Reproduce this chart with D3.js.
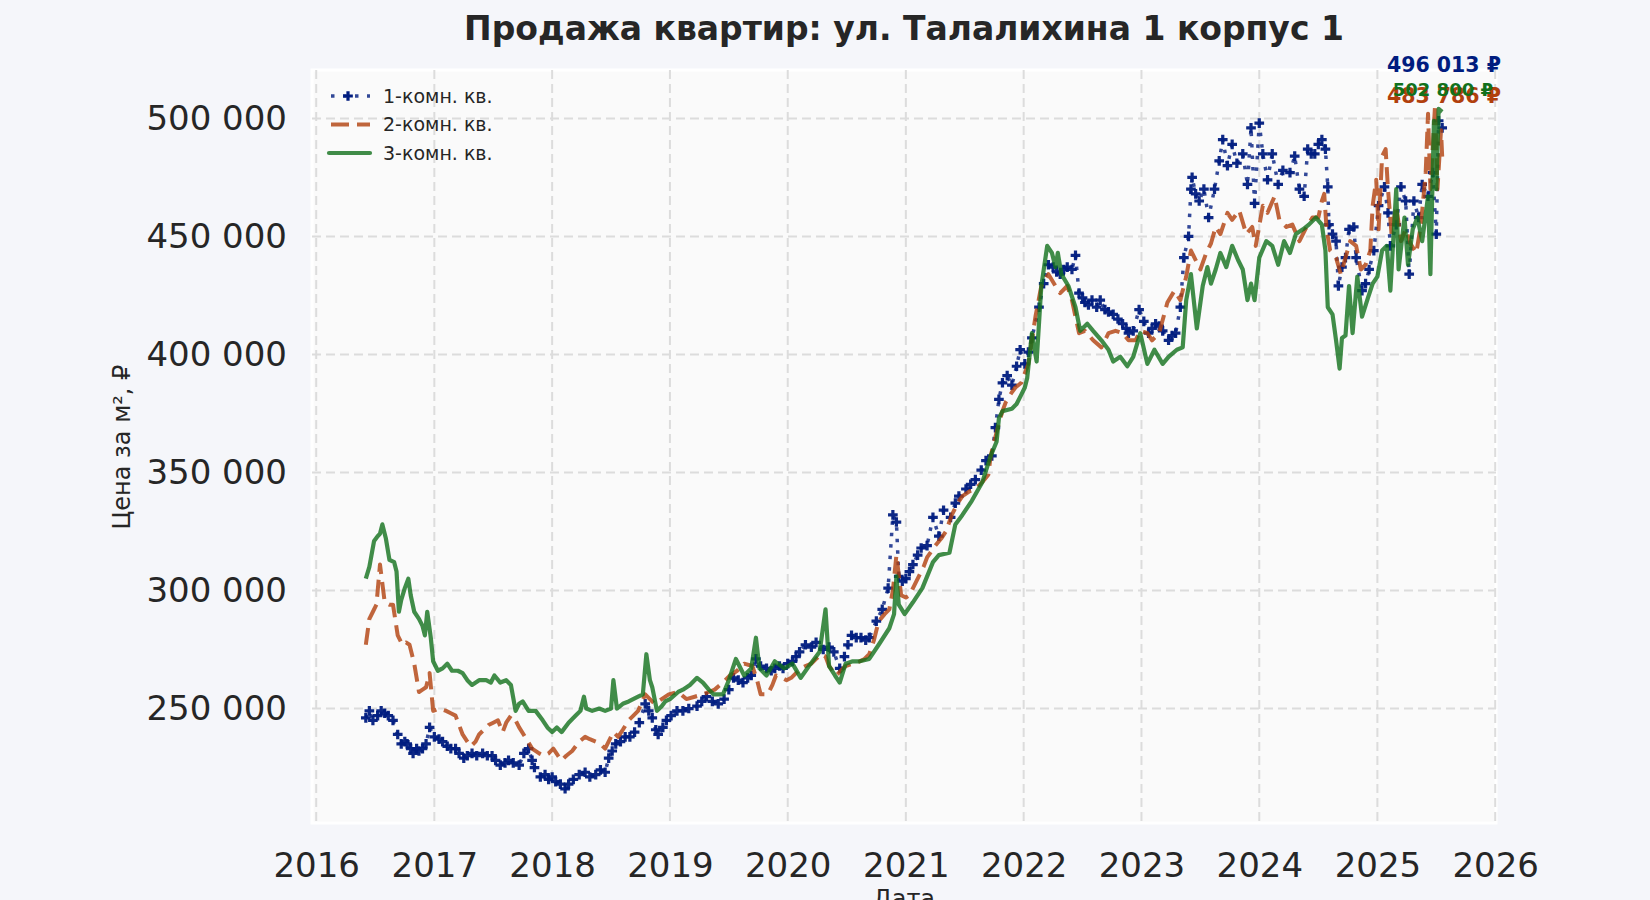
<!DOCTYPE html>
<html>
<head>
<meta charset="utf-8">
<script src="https://cdn.jsdelivr.net/npm/d3@7"></script>
<style>
  body { margin: 0; background: #f5f6fa; }
  svg { display: block; font-family: "DejaVu Sans", sans-serif; }
</style>
</head>
<body>
<div id="chart"></div>
<script>
// Series: [decimal year, price per m2 in thousand rubles]
var room1 = [
  [2016.42,246],[2016.45,249],[2016.48,245],[2016.52,247],[2016.55,249],[2016.58,248],[2016.61,247],[2016.65,245],
  [2016.69,239],[2016.72,235],[2016.75,236],[2016.77,235],[2016.80,233],[2016.82,231],[2016.85,233],[2016.87,232],
  [2016.90,233],[2016.93,235],[2016.96,242],[2017.00,238],[2017.04,237],[2017.07,236],[2017.11,234],[2017.14,233],
  [2017.18,233],[2017.21,231],[2017.25,229],[2017.28,230],[2017.32,231],[2017.36,230],[2017.41,231],[2017.45,230],
  [2017.49,230],[2017.52,228],[2017.56,226],[2017.60,227],[2017.63,228],[2017.67,227],[2017.72,226],[2017.76,231],
  [2017.80,233],[2017.83,228],[2017.85,225],[2017.90,221],[2017.94,222],[2017.97,220],[2018.00,221],[2018.03,219],
  [2018.07,218],[2018.11,216],[2018.14,218],[2018.18,220],[2018.23,222],[2018.28,223],[2018.32,221],[2018.37,222],
  [2018.41,224],[2018.45,223],[2018.48,229],[2018.51,232],[2018.54,235],[2018.58,236],[2018.62,238],[2018.66,238],
  [2018.70,240],[2018.74,244],[2018.79,252],[2018.82,249],[2018.85,246],[2018.88,241],[2018.90,239],[2018.94,242],
  [2018.97,245],[2019.01,247],[2019.06,249],[2019.11,249],[2019.16,250],[2019.23,251],[2019.27,253],[2019.31,255],
  [2019.36,253],[2019.41,252],[2019.46,254],[2019.50,258],[2019.54,263],[2019.58,262],[2019.62,261],[2019.66,263],
  [2019.69,264],[2019.73,271],[2019.77,268],[2019.82,267],[2019.86,266],[2019.89,267],[2019.93,268],[2019.96,267],
  [2020.00,269],[2020.04,270],[2020.07,272],[2020.10,274],[2020.15,277],[2020.20,276],[2020.24,278],[2020.30,275],
  [2020.35,276],[2020.39,274],[2020.44,267],[2020.48,272],[2020.51,277],[2020.54,281],[2020.58,280],[2020.62,280],
  [2020.66,279],[2020.69,280],[2020.75,287],[2020.80,292],[2020.85,301],[2020.89,332],[2020.92,329],[2020.94,306],
  [2020.97,304],[2021.00,305],[2021.03,308],[2021.06,311],[2021.10,315],[2021.13,318],[2021.18,319],[2021.23,331],
  [2021.28,323],[2021.32,334],[2021.38,331],[2021.42,337],[2021.45,340],[2021.51,343],[2021.55,345],[2021.59,347],
  [2021.64,351],[2021.68,355],[2021.73,357],[2021.76,369],[2021.79,381],[2021.82,388],[2021.86,391],[2021.90,387],
  [2021.94,395],[2021.97,402],[2022.01,396],[2022.04,401],[2022.07,407],[2022.13,420],[2022.17,430],[2022.21,438],
  [2022.25,437],[2022.28,435],[2022.31,434],[2022.34,436],[2022.37,437],[2022.41,436],[2022.44,442],[2022.47,426],
  [2022.50,424],[2022.52,422],[2022.55,421],[2022.58,423],[2022.62,420],[2022.65,423],[2022.69,419],[2022.72,418],
  [2022.76,417],[2022.80,415],[2022.84,413],[2022.87,411],[2022.89,409],[2022.93,410],[2022.98,419],[2023.02,414],
  [2023.06,409],[2023.09,411],[2023.12,413],[2023.15,412],[2023.18,410],[2023.23,406],[2023.26,408],[2023.29,409],
  [2023.33,420],[2023.36,441],[2023.40,450],[2023.42,470],[2023.43,475],[2023.46,468],[2023.49,465],[2023.53,470],
  [2023.57,458],[2023.62,470],[2023.66,482],[2023.69,491],[2023.73,480],[2023.77,489],[2023.81,481],[2023.86,485],
  [2023.90,472],[2023.93,496],[2023.96,464],[2024.00,498],[2024.03,485],[2024.07,474],[2024.11,485],[2024.16,472],
  [2024.20,478],[2024.26,477],[2024.30,484],[2024.34,470],[2024.38,467],[2024.41,487],[2024.44,485],[2024.47,485],
  [2024.50,489],[2024.53,491],[2024.56,487],[2024.58,471],[2024.59,455],[2024.62,451],[2024.65,448],[2024.67,429],
  [2024.70,437],[2024.73,441],[2024.76,453],[2024.80,454],[2024.82,441],[2024.87,427],[2024.90,430],[2024.93,436],
  [2024.97,444],[2025.01,463],[2025.06,471],[2025.09,460],[2025.11,446],[2025.16,455],[2025.20,471],[2025.24,465],
  [2025.27,434],[2025.31,465],[2025.35,458],[2025.38,472],[2025.43,467],[2025.47,477],[2025.50,451],[2025.52,499],
  [2025.55,496.013]
];

var room2 = [
  [2016.42,277],[2016.45,288],[2016.48,291],[2016.51,294],[2016.54,311],[2016.58,295],[2016.62,294],[2016.65,294],
  [2016.69,281],[2016.73,277],[2016.76,278],[2016.79,277],[2016.83,269],[2016.87,257],[2016.90,258],[2016.93,259],
  [2016.96,265],[2016.99,249],[2017.04,250],[2017.10,249],[2017.14,248],[2017.18,247],[2017.24,239],[2017.28,236],
  [2017.31,234],[2017.35,236],[2017.38,239],[2017.42,241],[2017.46,243],[2017.50,244],[2017.54,245],[2017.58,240],
  [2017.61,244],[2017.65,247],[2017.69,245],[2017.72,242],[2017.77,238],[2017.83,233],[2017.89,231],[2017.93,230],
  [2017.97,231],[2018.01,233],[2018.05,230],[2018.08,228],[2018.12,230],[2018.17,232],[2018.23,236],[2018.28,238],
  [2018.32,237],[2018.37,236],[2018.41,235],[2018.45,233],[2018.52,240],[2018.56,238],[2018.60,241],[2018.65,245],
  [2018.69,247],[2018.73,249],[2018.79,256],[2018.83,254],[2018.87,252],[2018.93,254],[2018.99,256],[2019.07,257],
  [2019.14,254],[2019.21,255],[2019.28,256],[2019.33,257],[2019.38,258],[2019.45,261],[2019.51,264],[2019.57,266],
  [2019.63,269],[2019.70,268],[2019.74,262],[2019.77,256],[2019.83,256],[2019.87,260],[2019.90,264],[2019.95,263],
  [2019.99,262],[2020.03,263],[2020.07,265],[2020.11,267],[2020.15,268],[2020.20,269],[2020.24,271],[2020.28,273],
  [2020.32,272],[2020.35,268],[2020.41,264],[2020.45,266],[2020.49,268],[2020.55,269],[2020.61,270],[2020.65,271],
  [2020.69,273],[2020.73,279],[2020.77,287],[2020.82,290],[2020.86,292],[2020.89,300],[2020.92,315],[2020.96,298],
  [2021.00,297],[2021.03,298],[2021.07,302],[2021.11,306],[2021.15,310],[2021.18,314],[2021.25,319],[2021.30,322],
  [2021.34,325],[2021.39,332],[2021.44,337],[2021.48,340],[2021.54,342],[2021.59,343],[2021.65,346],[2021.70,349],
  [2021.72,357],[2021.76,365],[2021.79,371],[2021.82,376],[2021.85,380],[2021.90,384],[2021.93,386],[2021.98,388],
  [2022.04,396],[2022.10,416],[2022.15,429],[2022.21,434],[2022.27,429],[2022.31,426],[2022.37,429],[2022.41,423],
  [2022.44,416],[2022.47,409],[2022.52,410],[2022.59,406],[2022.66,403],[2022.72,409],[2022.78,410],[2022.84,409],
  [2022.89,406],[2022.95,406],[2022.99,410],[2023.05,409],[2023.09,406],[2023.15,409],[2023.22,422],[2023.28,427],
  [2023.33,423],[2023.38,433],[2023.42,444],[2023.46,440],[2023.50,436],[2023.55,443],[2023.59,447],[2023.63,454],
  [2023.67,451],[2023.73,460],[2023.77,457],[2023.83,461],[2023.89,451],[2023.94,454],[2023.97,446],[2024.03,463],
  [2024.07,460],[2024.13,467],[2024.17,457],[2024.23,454],[2024.28,455],[2024.34,448],[2024.39,453],[2024.45,458],
  [2024.50,458],[2024.53,465],[2024.55,468],[2024.57,453],[2024.60,444],[2024.65,441],[2024.69,434],[2024.73,441],
  [2024.77,448],[2024.82,446],[2024.86,436],[2024.90,438],[2024.94,444],[2024.96,463],[2024.99,474],[2025.01,453],
  [2025.04,484],[2025.07,487],[2025.09,470],[2025.12,451],[2025.16,463],[2025.20,448],[2025.24,453],[2025.28,447],
  [2025.33,443],[2025.37,455],[2025.41,477],[2025.43,502],[2025.45,470],[2025.49,506],[2025.51,470],[2025.54,495],
  [2025.55,483.786]
];

var room3 = [
  [2016.42,305],[2016.45,310],[2016.49,321],[2016.52,323],[2016.54,324],[2016.56,328],[2016.59,322],[2016.62,313],
  [2016.66,312],[2016.68,308],[2016.70,291],[2016.72,296],[2016.75,301],[2016.78,305],[2016.80,298],[2016.83,291],
  [2016.87,288],[2016.90,285],[2016.92,281],[2016.94,291],[2016.97,280],[2016.99,270],[2017.03,266],[2017.07,267],
  [2017.11,269],[2017.15,266],[2017.20,266],[2017.24,265],[2017.28,262],[2017.32,260],[2017.38,262],[2017.44,262],
  [2017.48,261],[2017.51,264],[2017.56,261],[2017.61,262],[2017.65,260],[2017.69,249],[2017.72,252],[2017.75,253],
  [2017.80,249],[2017.86,249],[2017.92,245],[2017.96,242],[2018.00,240],[2018.04,242],[2018.08,240],[2018.14,244],
  [2018.20,247],[2018.24,249],[2018.27,255],[2018.29,250],[2018.34,249],[2018.40,250],[2018.45,249],[2018.50,250],
  [2018.52,262],[2018.55,250],[2018.60,252],[2018.65,253],[2018.73,255],[2018.77,256],[2018.80,273],[2018.83,262],
  [2018.85,259],[2018.89,249],[2018.93,251],[2018.96,253],[2019.00,254],[2019.07,257],[2019.11,258],[2019.17,260],
  [2019.23,263],[2019.28,261],[2019.33,258],[2019.37,256],[2019.45,256],[2019.50,262],[2019.56,271],[2019.63,264],
  [2019.69,267],[2019.73,280],[2019.76,267],[2019.82,264],[2019.89,270],[2019.97,267],[2020.04,269],[2020.11,263],
  [2020.18,268],[2020.27,274],[2020.32,292],[2020.35,268],[2020.40,264],[2020.44,261],[2020.49,269],[2020.55,270],
  [2020.61,270],[2020.69,271],[2020.77,277],[2020.86,284],[2020.90,290],[2020.92,306],[2020.94,294],[2020.99,290],
  [2021.06,295],[2021.14,301],[2021.23,312],[2021.28,315],[2021.37,316],[2021.42,328],[2021.48,332],[2021.56,338],
  [2021.65,346],[2021.72,357],[2021.77,363],[2021.79,373],[2021.82,376],[2021.90,377],[2021.94,379],[2021.98,383],
  [2022.01,386],[2022.03,390],[2022.07,409],[2022.11,397],[2022.15,429],[2022.20,446],[2022.24,443],[2022.27,437],
  [2022.29,443],[2022.32,434],[2022.38,429],[2022.44,420],[2022.48,410],[2022.54,413],[2022.59,410],[2022.66,406],
  [2022.72,402],[2022.76,397],[2022.82,399],[2022.88,395],[2022.93,399],[2022.99,409],[2023.05,396],[2023.11,402],
  [2023.18,396],[2023.23,399],[2023.30,402],[2023.35,403],[2023.38,423],[2023.42,434],[2023.47,411],[2023.52,429],
  [2023.56,437],[2023.59,430],[2023.63,436],[2023.67,443],[2023.72,437],[2023.77,446],[2023.82,440],[2023.86,436],
  [2023.90,423],[2023.93,430],[2023.96,423],[2024.00,441],[2024.06,448],[2024.11,446],[2024.16,438],[2024.21,448],
  [2024.26,443],[2024.31,451],[2024.37,453],[2024.42,455],[2024.48,458],[2024.53,455],[2024.56,444],[2024.58,420],
  [2024.62,417],[2024.65,406],[2024.68,394],[2024.70,407],[2024.73,408],[2024.76,429],[2024.79,409],[2024.83,433],
  [2024.87,416],[2024.92,424],[2024.96,430],[2025.00,433],[2025.04,444],[2025.08,446],[2025.11,427],[2025.16,470],
  [2025.18,436],[2025.23,458],[2025.26,438],[2025.30,453],[2025.34,458],[2025.38,448],[2025.43,467],[2025.45,434],
  [2025.48,499],[2025.50,470],[2025.52,504],[2025.55,502.8]
];

var seriesNames = ['1-комн. кв.', '2-комн. кв.', '3-комн. кв.'];
var lastLabels = ['496 013 ₽', '483 786 ₽', '502 800 ₽'];
var yTickValues = [250000, 300000, 350000, 400000, 450000, 500000];
var xTickYears = [2016, 2017, 2018, 2019, 2020, 2021, 2022, 2023, 2024, 2025, 2026];

var colors = ['#001c7f', '#b1400d', '#12711c'];

// decimal year -> Date
function toDate(t) {
    var y = Math.floor(t);
    var a = new Date(y, 0, 1).getTime();
    var b = new Date(y + 1, 0, 1).getTime();
    return new Date(a + (t - y) * (b - a));
}

var allSeries = [room1, room2, room3].map(function (s) {
    return s.map(function (d) { return { date: toDate(d[0]), value: d[1] * 1000 }; });
});

var svgWidth = 1650, svgHeight = 900;
var margin = { top: 70, right: 154, bottom: 77, left: 312 };
var chartWidth = svgWidth - margin.left - margin.right;
var chartHeight = svgHeight - margin.top - margin.bottom;

var svg = d3.select('#chart')
    .append('svg')
    .attr('width', svgWidth)
    .attr('height', svgHeight)
    .style('background', '#f5f6fa');

var chartGroup = svg.append('g')
    .attr('transform', `translate(${margin.left}, ${margin.top})`);

// domains padded by 5% like matplotlib
var flat = [].concat.apply([], allSeries);
var tExt = d3.extent(flat, d => d.date.getTime());
var vExt = d3.extent(flat, d => d.value);
var tPad = (tExt[1] - tExt[0]) * 0.05;
var vPad = (vExt[1] - vExt[0]) * 0.05;

var xScale = d3.scaleTime()
    .domain([new Date(tExt[0] - tPad), new Date(tExt[1] + tPad)])
    .range([0, chartWidth]);

var yScale = d3.scaleLinear()
    .domain([vExt[0] - vPad, vExt[1] + vPad])
    .range([chartHeight, 0]);

// plot background
chartGroup.append('rect')
    .attr('x', 0).attr('y', 0)
    .attr('width', chartWidth).attr('height', chartHeight)
    .attr('fill', '#fafafa')
    .attr('stroke', '#ffffff')
    .attr('stroke-width', 3);

var locale = d3.formatLocale({ decimal: ',', thousands: ' ', grouping: [3], currency: ['', ' ₽'] });
var fmt = locale.format(',d');

var xTicks = xTickYears.map(y => new Date(y, 0, 1));

// grid
chartGroup.append('g')
    .selectAll('line')
    .data(xTicks)
    .enter()
    .append('line')
    .attr('x1', d => xScale(d)).attr('x2', d => xScale(d))
    .attr('y1', 0).attr('y2', chartHeight)
    .attr('stroke', '#dcdcdc')
    .attr('stroke-width', 2)
    .attr('stroke-dasharray', '9 5');

chartGroup.append('g')
    .selectAll('line')
    .data(yTickValues)
    .enter()
    .append('line')
    .attr('x1', 0).attr('x2', chartWidth)
    .attr('y1', d => yScale(d)).attr('y2', d => yScale(d))
    .attr('stroke', '#dcdcdc')
    .attr('stroke-width', 2)
    .attr('stroke-dasharray', '9 5');

// axes
var xAxis = d3.axisBottom(xScale)
    .tickValues(xTicks)
    .tickFormat(d3.timeFormat('%Y'))
    .tickSize(0)
    .tickPadding(30);

var yAxis = d3.axisLeft(yScale)
    .tickValues(yTickValues)
    .tickFormat(fmt)
    .tickSize(0)
    .tickPadding(25);

var gx = chartGroup.append('g')
    .attr('transform', `translate(0, ${chartHeight})`)
    .call(xAxis);

var gy = chartGroup.append('g')
    .call(yAxis);

[gx, gy].forEach(function (g) {
    g.select('.domain').remove();
    g.selectAll('text')
        .attr('fill', '#262626')
        .style('font-size', '34px')
        .style('font-family', '"DejaVu Sans", sans-serif');
});

// lines
var line = d3.line()
    .x(d => xScale(d.date))
    .y(d => yScale(d.value));

var lineStyles = [
    { width: 3.5, dash: '3.5 8', opacity: 0.8 },
    { width: 4, dash: '17 8', opacity: 0.8 },
    { width: 4.2, dash: null, opacity: 0.8 }
];

allSeries.forEach(function (s, i) {
    chartGroup.append('path')
        .datum(s)
        .attr('d', line)
        .attr('fill', 'none')
        .attr('stroke', colors[i])
        .attr('stroke-width', lineStyles[i].width)
        .attr('stroke-dasharray', lineStyles[i].dash)
        .attr('stroke-linejoin', 'round')
        .attr('opacity', lineStyles[i].opacity);

    if (i === 0) {
        chartGroup.append('g')
            .selectAll('path')
            .data(s)
            .enter()
            .append('path')
            .attr('d', d3.symbol(d3.symbolCross, 52))
            .attr('transform', d => `translate(${xScale(d.date)}, ${yScale(d.value)})`)
            .attr('fill', colors[0])
            .attr('opacity', 0.95);
    }
});

// legend
var legend = chartGroup.append('g')
    .attr('transform', 'translate(17, 26)');

seriesNames.forEach(function (name, i) {
    var row = legend.append('g')
        .attr('transform', `translate(0, ${i * 28.5})`);
    row.append('line')
        .attr('x1', 0).attr('x2', 41)
        .attr('y1', 0).attr('y2', 0)
        .attr('stroke', colors[i])
        .attr('stroke-width', lineStyles[i].width)
        .attr('stroke-dasharray', i === 0 ? '3.5 8.5' : (i === 1 ? '18 8' : null))
        .attr('stroke-dashoffset', -2)
        .attr('stroke-linecap', i === 2 ? 'round' : 'butt')
        .attr('opacity', 0.8);
    if (i === 0) {
        row.append('path')
            .attr('d', d3.symbol(d3.symbolCross, 52))
            .attr('transform', 'translate(19, 0)')
            .attr('fill', colors[0]);
    }
    row.append('text')
        .attr('x', 54)
        .attr('y', 0)
        .attr('dy', '0.35em')
        .attr('fill', '#262626')
        .style('font-size', '19px')
        .text(name);
});

// last value labels
var lastPos = [
    { x: chartWidth + 5, y: 2, size: 20.5 },
    { x: chartWidth + 5, y: 33, size: 20.5 },
    { x: chartWidth - 3, y: 26, size: 18 }
];

lastLabels.forEach(function (label, i) {
    chartGroup.append('text')
        .attr('x', lastPos[i].x)
        .attr('y', lastPos[i].y)
        .attr('text-anchor', 'end')
        .attr('fill', colors[i])
        .style('font-size', lastPos[i].size + 'px')
        .style('font-weight', 'bold')
        .text(label);
});

// title
svg.append('text')
    .attr('x', margin.left + chartWidth / 2)
    .attr('y', 40)
    .attr('text-anchor', 'middle')
    .attr('fill', '#262626')
    .style('font-size', '33px')
    .style('font-weight', 'bold')
    .text('Продажа квартир: ул. Талалихина 1 корпус 1');

// axis labels
svg.append('text')
    .attr('transform', 'translate(130, 447) rotate(-90)')
    .attr('text-anchor', 'middle')
    .attr('fill', '#262626')
    .style('font-size', '24px')
    .text('Цена за м², ₽');

svg.append('text')
    .attr('x', margin.left + chartWidth / 2)
    .attr('y', 907)
    .attr('text-anchor', 'middle')
    .attr('fill', '#262626')
    .style('font-size', '24px')
    .text('Дата');
</script>
</body>
</html>
